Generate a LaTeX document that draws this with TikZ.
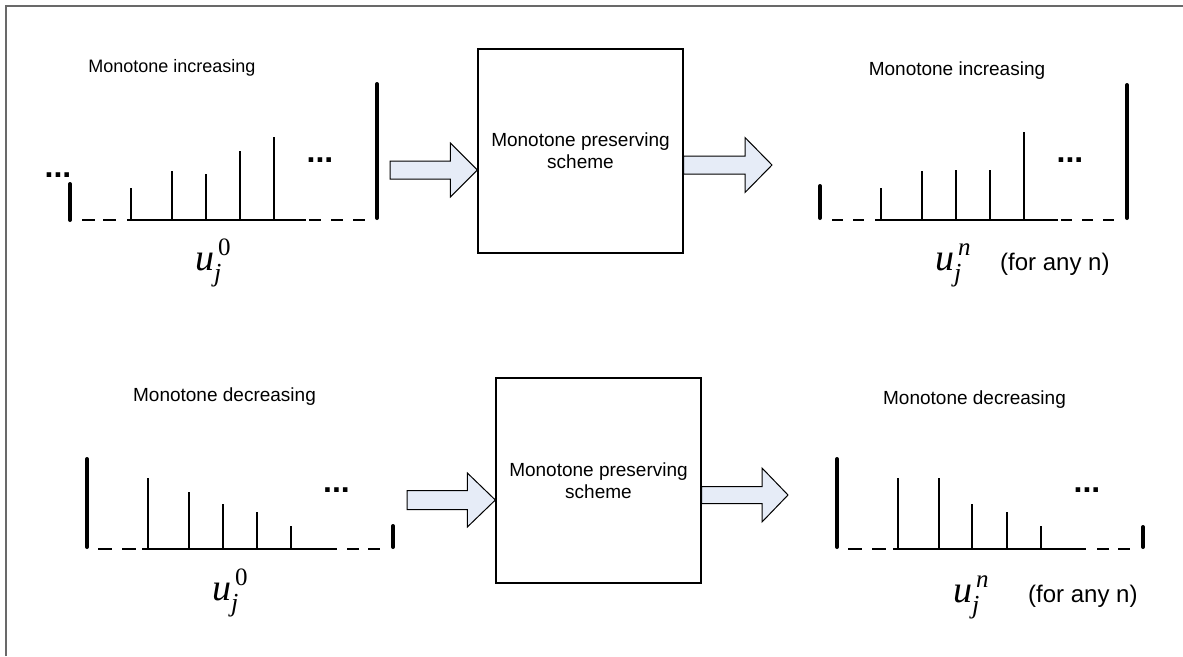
\documentclass[tikz,border=0pt]{standalone}
\usepackage{fontspec}
\setmainfont{Liberation Sans}
\newfontfamily\serifit{Liberation Serif}
\usetikzlibrary{calc}
\definecolor{arrowfill}{RGB}{230,236,247}
\definecolor{framegray}{RGB}{105,105,105}
\newcommand{\ulab}[1]{{\fontsize{38}{38}\selectfont\serifit\itshape u}\rlap{\kern4pt\raisebox{15pt}{\fontsize{25}{25}\selectfont\serifit #1}}\raisebox{-11pt}{\fontsize{26}{26}\selectfont\serifit\itshape j}}
\newcommand{\barrow}[5]{%
  \draw[blockarrow] ([yshift=#3]#1) -- ([xshift=-#5,yshift=#3]#2) -- ([xshift=-#5,yshift=#4]#2) -- (#2)
    -- ([xshift=-#5,yshift=-#4]#2) -- ([xshift=-#5,yshift=-#3]#2) -- ([yshift=-#3]#1) -- cycle;}
\begin{document}
\begin{tikzpicture}[x=1pt,y=-1pt,
  stem/.style={line width=1.6pt},
  bar/.style={line width=4pt, line cap=round},
  base/.style={line width=1.6pt},
  dsh/.style={line width=1.6pt},
  lbl/.style={font=\fontsize{19}{19}\selectfont, inner sep=0, anchor=base},
  dots/.style={font=\fontsize{32}{32}\selectfont\bfseries, inner sep=0, anchor=base},
  scheme/.style={draw, line width=1.3pt, inner sep=0, align=center, font=\fontsize{19}{22}\selectfont},
  blockarrow/.style={draw, line width=1pt, fill=arrowfill, line join=miter},
  frameline/.style={draw=framegray, line width=2pt},
  forany/.style={font=\fontsize{24}{24}\selectfont, inner sep=0, anchor=base west},
  ulabel/.style={inner sep=0, anchor=base west}]
\useasboundingbox (0,0) rectangle (1183,656);
\fill[white] (0,0) rectangle (1183,656);
\draw[frameline] (6,656) -- (6,6) -- (1183,6);

% ---------- boxes ----------
\node[scheme, minimum width=205pt, minimum height=204pt] (boxA) at (580.5,151) {Monotone preserving\\scheme};
\node[scheme, minimum width=205pt, minimum height=205pt] (boxB) at (598.5,480.5) {Monotone preserving\\scheme};

\node[lbl, font=\fontsize{18}{18}\selectfont] (tl) at (172,72) {Monotone increasing};
\node[lbl] (tr) at (957,75) {Monotone increasing};
\node[lbl] (bl) at (224.5,401) {Monotone decreasing};
\node[lbl] (br) at (974.5,404) {Monotone decreasing};

% top-left panel
\draw[bar] (70,184) -- (70,220);
\draw[dsh, dash pattern=on 13pt off 8pt] (82,220) -- (117,220);
\draw[base] (127,220) -- (306,220);
\foreach \x/\t in {131/188,172/171,206/174,240/151,274/137} \draw[stem] (\x,220) -- (\x,\t);
\draw[dsh, dash pattern=on 12pt off 10pt] (309,220) -- (365,220);
\draw[bar] (377,84) -- (377,218);
\node[dots] (d1) at (58,177) {...};
\node[dots] (d2) at (320,162) {...};
\node[ulabel] (u1) at (195,270) {\ulab{0}};

% top-right panel
\draw[bar] (820,186) -- (820,218);
\draw[dsh, dash pattern=on 11pt off 10pt] (832,220) -- (865,220);
\draw[base] (875,220) -- (1058,220);
\foreach \x/\t in {881/188,922/171,956/170,990/170,1024/132} \draw[stem] (\x,220) -- (\x,\t);
\draw[dsh, dash pattern=on 11pt off 10pt] (1061,220) -- (1114,220);
\draw[bar] (1127,85) -- (1127,218);
\node[dots] (d3) at (1070,162) {...};
\node[ulabel] (u2) at (935,270) {\ulab{\itshape n}};
\node[forany] (fa1) at (1000,270) {(for any n)};

% bottom-left panel
\draw[bar] (87,459) -- (87,547);
\draw[dsh, dash pattern=on 14pt off 10pt] (98,549) -- (136,549);
\draw[base] (142,549) -- (337,549);
\foreach \x/\t in {148/478,189/492,223/504,257/512,291/526} \draw[stem] (\x,549) -- (\x,\t);
\draw[dsh, dash pattern=on 12pt off 9pt] (347,549) -- (380,549);
\draw[bar] (393,526) -- (393,547);
\node[dots] (d4) at (336.5,492) {...};
\node[ulabel] (u3) at (212,600) {\ulab{0}};

% bottom-right panel
\draw[bar] (837,459) -- (837,547);
\draw[dsh, dash pattern=on 14pt off 10pt] (848,549) -- (886,549);
\draw[base] (893,549) -- (1086,549);
\foreach \x/\t in {898/478,939/478,972/504,1007/512,1041/526} \draw[stem] (\x,549) -- (\x,\t);
\draw[dsh, dash pattern=on 12pt off 9pt] (1097,549) -- (1130,549);
\draw[bar] (1143,527) -- (1143,547);
\node[dots] (d5) at (1087,492) {...};
\node[ulabel] (u4) at (953,602) {\ulab{\itshape n}};
\node[forany] (fa2) at (1028,602) {(for any n)};

% ---------- block arrows ----------
\coordinate (a1s) at (390,170);
\coordinate (a1t) at (boxA.west |- a1s);
\barrow{a1s}{a1t}{9pt}{27pt}{27pt}
\coordinate (a2s) at ([yshift=-14pt]boxA.east);
\coordinate (a2t) at (772,165);
\barrow{a2s}{a2t}{9pt}{27.5pt}{27pt}
\coordinate (a3s) at (407,500);
\coordinate (a3t) at (boxB.west |- a3s);
\barrow{a3s}{a3t}{9.5pt}{27pt}{28pt}
\coordinate (a4s) at ([yshift=-14.5pt]boxB.east);
\coordinate (a4t) at (788,495);
\barrow{a4s}{a4t}{8.5pt}{27pt}{26pt}
\end{tikzpicture}
\end{document}
